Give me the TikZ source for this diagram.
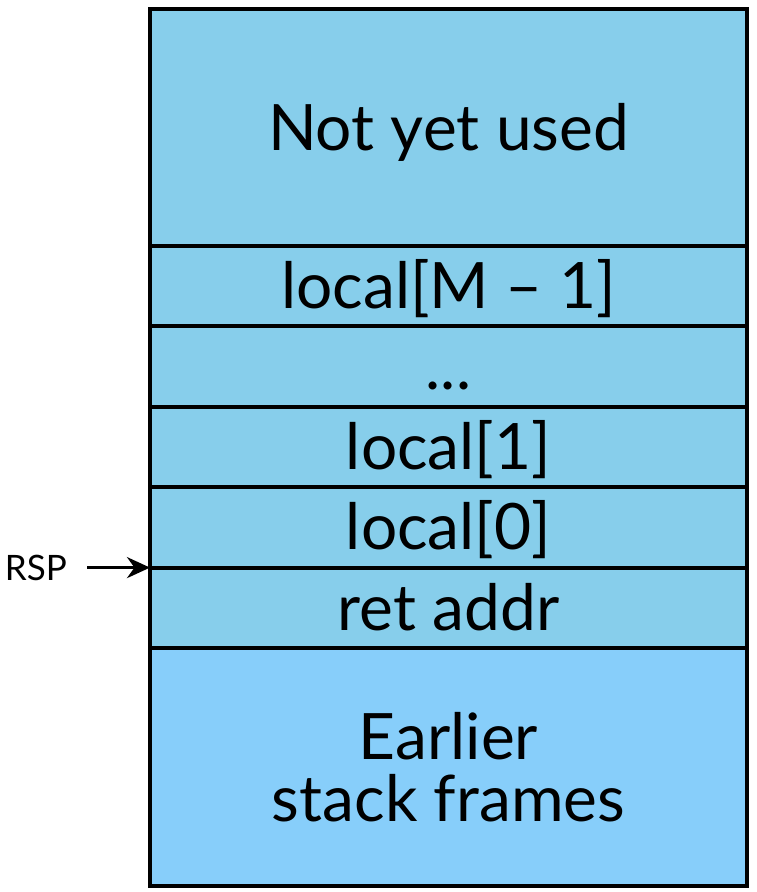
\documentclass[tikz,border=0pt]{standalone}
\usepackage{fontspec}
\setmainfont{Lato}
\usetikzlibrary{positioning,arrows.meta}

\definecolor{slotblue}{RGB}{135,206,235}
\definecolor{oldblue}{RGB}{135,206,250}

\begin{document}
\begin{tikzpicture}[x=1pt,y=-1pt,
    cell/.style={draw, line width=4pt, fill=slotblue, outer sep=0pt, inner sep=0pt,
        minimum width=597pt, minimum height=80.4pt, align=center,
        font=\fontsize{64}{62}\selectfont},
    slot/.style={cell, text height=45pt, text depth=0pt},
    bigslot/.style={slot, minimum height=237pt},
    oldslot/.style={cell, minimum height=238pt, fill=oldblue}]

    \useasboundingbox (0,0) rectangle (756,892);

    \node [bigslot] (unused) at (448.5,127.5) {Not yet used};
    \node [slot, below=0pt of unused] (localM) {local[M -- 1]};
    \node [slot, below=0pt of localM] (dots) {...};
    \node [slot, below=0pt of dots] (local1) {local[1]};
    \node [slot, below=0pt of local1] (local0) {local[0]};
    \node [slot, below=0pt of local0] (retaddr) {ret addr};
    \node [oldslot, below=0pt of retaddr] (earlier) {Earlier\\stack frames};

    \node [left=83pt of retaddr.north west, inner sep=0pt, font=\fontsize{35}{35}\selectfont] (rsp) {RSP};
    \draw [-{Stealth[length=23pt,width=21pt]}, line width=3.2pt] ([xshift=20pt]rsp.east) -- (retaddr.north west);

\end{tikzpicture}
\end{document}
